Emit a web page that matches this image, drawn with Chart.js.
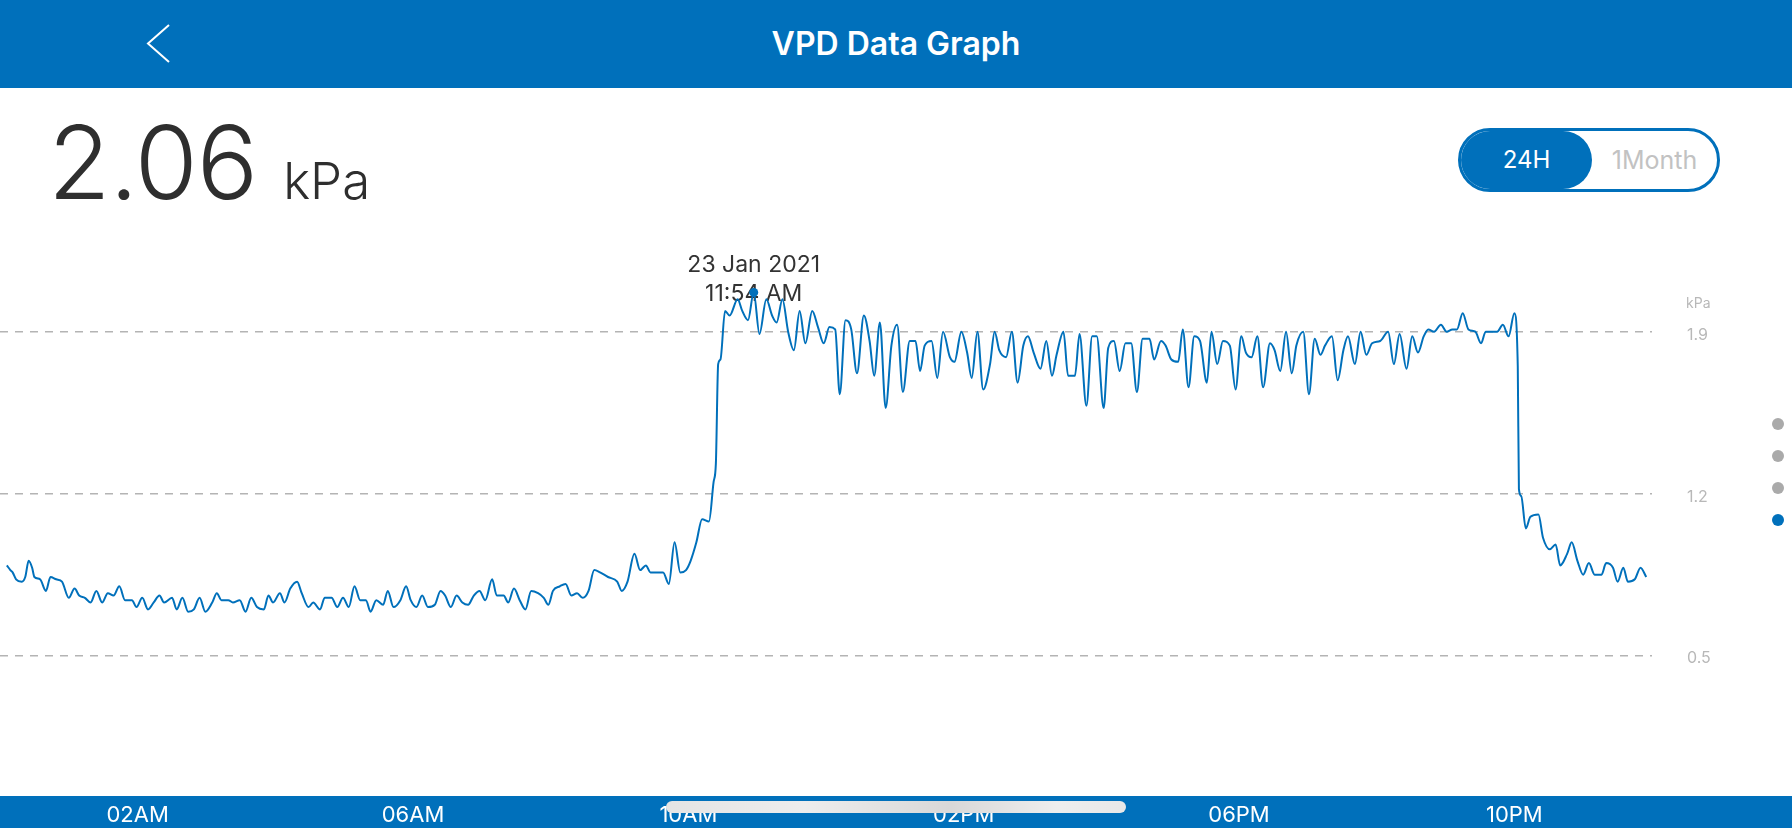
<!DOCTYPE html>
<html>
<head>
<meta charset="utf-8">
<title>VPD Data Graph</title>
<script src="https://cdn.jsdelivr.net/npm/chart.js@4.4.1/dist/chart.umd.min.js"></script>
<style>
  html, body { margin: 0; padding: 0; background: #fff; }
  body { width: 1792px; height: 828px; position: relative; overflow: hidden; font-family: Inter, "Noto Sans", sans-serif; }
  .topbar { position: absolute; left: 0; top: 0; width: 1792px; height: 88px; background: #0070bb; }
  .topbar h1 { margin: 0; position: absolute; left: 0; right: 0; top: 0; line-height: 88px; text-align: center; color: #fff; font-size: 32px; font-weight: 600; }
  .back { position: absolute; left: 140px; top: 20px; }
  .reading { position: absolute; left: 48px; top: 111px; display: flex; align-items: baseline; line-height: 1; color: #2e2e2e; }
  .reading .num { font-size: 102px; font-weight: 300; letter-spacing: -1px; }
  .reading .unit { font-size: 51px; font-weight: 300; margin-left: 26px; }
  .range { position: absolute; left: 1458px; top: 128px; width: 262px; height: 64px; box-sizing: border-box; border: 3px solid #0070bb; border-radius: 32px; font-size: 24px; }
  .range .on { position: absolute; left: 0; top: 0; width: 131px; height: 58px; border-radius: 29px; background: #0070bb; color: #fff; text-align: center; line-height: 58px; }
  .range .off { position: absolute; left: 131px; top: 0; width: 125px; height: 58px; color: #c2c2c2; text-align: center; line-height: 58px; font-size: 25px; }
  #vpdChart { position: absolute; left: 0; top: 200px; }
  .unitlbl { position: absolute; left: 1686px; top: 294px; font-size: 14px; color: #b8b8b8; }
  .dot { position: absolute; left: 1772px; width: 12px; height: 12px; border-radius: 6px; background: #aaaaaa; }
  .scroller { position: absolute; left: 666px; top: 801px; width: 460px; height: 12px; border-radius: 6px;
    background: linear-gradient(90deg, #e4e4e4 0%, #ededed 30%, #d8d8d8 62%, #eeeeee 85%, #e8e8e8 100%); }
</style>
</head>
<body>
<div class="topbar">
  <svg class="back" width="34" height="50"><polyline points="29,5 8,23.5 29,42" fill="none" stroke="#fff" stroke-width="2"/></svg>
  <h1>VPD Data Graph</h1>
</div>
<div class="reading"><span class="num">2.06</span><span class="unit">kPa</span></div>
<div class="range"><div class="on">24H</div><div class="off">1Month</div></div>
<canvas id="vpdChart" width="1792" height="628"></canvas>
<div class="unitlbl">kPa</div>
<div class="dot" style="top:418px"></div>
<div class="dot" style="top:450px"></div>
<div class="dot" style="top:482px"></div>
<div class="dot" style="top:514px; background:#0070bb"></div>
<div class="scroller"></div>
<script>
// minutes after midnight, 23 Jan 2021
const TIMES = [6, 9, 11, 14, 19, 22, 25, 28, 30, 35, 40, 44, 49, 54, 60, 65, 69, 74, 79, 84, 89, 94, 99, 104, 109, 115, 119, 124, 129, 134, 139, 143, 150, 154, 159, 164, 169, 174, 179, 185, 189, 193, 199, 203, 209, 214, 219, 224, 230, 234, 238, 244, 248, 253, 259, 263, 269, 273, 279, 283, 289, 294,
  299, 304, 309, 314, 319, 323, 328, 334, 338, 343, 349, 354, 358, 363, 368, 373, 379, 384, 388, 393, 398, 403, 408, 413, 418, 423, 429, 433, 439, 443, 448, 453, 458, 463, 469, 474, 478, 482, 488, 493, 498, 503, 508, 513, 518, 523, 530, 538, 542, 547, 553, 558, 563, 567, 578, 583,
  588, 593, 598, 602, 607, 612, 618, 622, 624, 626, 628, 632, 636, 643, 647, 652, 657, 662, 668, 673, 677, 682, 687, 692, 697, 702, 708, 713, 718, 723, 728, 732, 737, 742, 747, 753, 758, 762, 767, 772, 777, 782, 787, 793, 798, 802, 806, 812, 817, 822, 828, 832, 838, 843, 847, 852, 857, 863, 867,
  871, 877, 882, 887, 892, 896, 901, 907, 912, 917, 921, 927, 931, 937, 941, 947, 952, 956, 962, 966, 971, 976, 981, 986, 991, 996, 1002, 1006, 1012, 1016, 1021, 1027, 1031, 1036, 1041, 1046, 1052, 1056, 1061, 1066, 1072, 1077, 1082, 1086, 1091, 1096, 1101, 1107, 1111, 1116, 1121, 1126, 1130, 1136, 1141, 1146, 1151, 1155,
  1161, 1166, 1171, 1175, 1181, 1186, 1191, 1196, 1203, 1210, 1215, 1220, 1226, 1231, 1236, 1241, 1245, 1250, 1256, 1261, 1266, 1270, 1275, 1280, 1286, 1291, 1295, 1300, 1305, 1310, 1315, 1320, 1323, 1324, 1326, 1330, 1334, 1341, 1345, 1351, 1356, 1360, 1366, 1370, 1375, 1380, 1385, 1390, 1396, 1400, 1406, 1410, 1415, 1419, 1425, 1430, 1435];
const VPD = [0.89, 0.87, 0.86, 0.83, 0.82, 0.84, 0.91, 0.88, 0.84, 0.83, 0.78, 0.84, 0.83, 0.82, 0.75, 0.79, 0.76, 0.75, 0.73, 0.78, 0.73, 0.77, 0.76, 0.80, 0.74, 0.74, 0.71, 0.75, 0.70, 0.73, 0.76, 0.73, 0.75, 0.70, 0.75, 0.69, 0.70, 0.75, 0.69, 0.73, 0.77, 0.74, 0.74, 0.73, 0.74, 0.69, 0.75, 0.71, 0.70, 0.76, 0.73, 0.77, 0.73, 0.79, 0.82, 0.77, 0.71, 0.73, 0.70, 0.75, 0.75, 0.71,
  0.75, 0.71, 0.80, 0.74, 0.74, 0.69, 0.74, 0.72, 0.78, 0.71, 0.74, 0.80, 0.74, 0.71, 0.76, 0.71, 0.72, 0.78, 0.76, 0.71, 0.76, 0.73, 0.72, 0.76, 0.78, 0.74, 0.83, 0.76, 0.76, 0.73, 0.79, 0.74, 0.70, 0.78, 0.77, 0.75, 0.72, 0.78, 0.80, 0.81, 0.76, 0.77, 0.75, 0.78, 0.87, 0.86, 0.84, 0.82, 0.78, 0.82, 0.94, 0.87, 0.89, 0.86, 0.86, 0.81,
  0.99, 0.86, 0.87, 0.91, 0.99, 1.09, 1.08, 1.25, 1.33, 1.76, 1.78, 1.99, 1.97, 2.04, 1.99, 1.95, 2.07, 1.89, 2.04, 1.97, 1.94, 2.04, 1.90, 1.82, 1.99, 1.85, 1.99, 1.92, 1.85, 1.92, 1.91, 1.63, 1.95, 1.91, 1.72, 1.97, 1.86, 1.71, 1.94, 1.57, 1.84, 1.93, 1.64, 1.86, 1.86, 1.73, 1.84, 1.86, 1.70, 1.90, 1.79, 1.77, 1.90, 1.81, 1.70, 1.90, 1.65, 1.76, 1.90,
  1.82, 1.79, 1.90, 1.68, 1.84, 1.88, 1.81, 1.74, 1.86, 1.71, 1.80, 1.90, 1.71, 1.71, 1.89, 1.58, 1.88, 1.88, 1.57, 1.83, 1.86, 1.73, 1.85, 1.85, 1.64, 1.87, 1.87, 1.78, 1.86, 1.84, 1.78, 1.77, 1.91, 1.66, 1.88, 1.86, 1.68, 1.90, 1.76, 1.86, 1.84, 1.65, 1.88, 1.81, 1.79, 1.88, 1.66, 1.85, 1.82, 1.73, 1.90, 1.72, 1.84, 1.90, 1.63, 1.87, 1.80, 1.84,
  1.88, 1.69, 1.82, 1.88, 1.76, 1.90, 1.80, 1.85, 1.86, 1.90, 1.76, 1.89, 1.74, 1.88, 1.81, 1.88, 1.91, 1.90, 1.93, 1.90, 1.91, 1.91, 1.98, 1.91, 1.90, 1.85, 1.90, 1.90, 1.90, 1.93, 1.88, 1.98, 1.75, 1.22, 1.19, 1.05, 1.10, 1.11, 1.01, 0.96, 0.98, 0.89, 0.94, 0.99, 0.91, 0.85, 0.90, 0.85, 0.85, 0.90, 0.88, 0.82, 0.88, 0.82, 0.83, 0.88, 0.84];
const X_TICKS = [120, 360, 600, 840, 1080, 1320];
const X_LABELS = ['02AM', '06AM', '10AM', '02PM', '06PM', '10PM'];
const Y_TICKS = [0.5, 1.2, 1.9];
const PICKED_TIME = 657;
const PICKED_TEXT = ['23 Jan 2021', '11:54 AM'];

const BLUE = '#0070bb';
const pickedIndex = TIMES.indexOf(PICKED_TIME);

Chart.defaults.font.family = 'Inter, "Noto Sans", sans-serif';

// blue strip behind the time labels
const bottomBar = {
    id: 'bottomBar',
    beforeDraw: function(chart) {
        var ctx = chart.ctx;
        ctx.save();
        ctx.fillStyle = BLUE;
        ctx.fillRect(0, chart.height - 32, chart.width, 32);
        ctx.restore();
    }
};

// date/time caption over the selected reading
const pickedCaption = {
    id: 'pickedCaption',
    beforeDatasetsDraw: function(chart) {
        var pt = chart.getDatasetMeta(0).data[pickedIndex];
        if (!pt) return;
        var ctx = chart.ctx;
        ctx.save();
        ctx.fillStyle = '#333';
        ctx.font = '23px Inter, "Noto Sans", sans-serif';
        ctx.textAlign = 'center';
        ctx.textBaseline = 'middle';
        ctx.fillText(PICKED_TEXT[0], pt.x, pt.y - 27);
        ctx.fillText(PICKED_TEXT[1], pt.x, pt.y + 2);
        ctx.restore();
    }
};

document.addEventListener("DOMContentLoaded", function() {
    var ctx = document.getElementById('vpdChart').getContext('2d');
    var myChart = new Chart(ctx, {
        type: 'line',
        data: {
            datasets: [{
                label: 'VPD',
                data: TIMES.map(function(t, i) { return {x: t, y: VPD[i]}; }),
                borderColor: BLUE,
                borderWidth: 2,
                fill: false,
                cubicInterpolationMode: 'monotone',
                pointRadius: function(c) { return c.dataIndex === pickedIndex ? 4.5 : 0; },
                pointBackgroundColor: BLUE,
                pointBorderWidth: 0,
                pointHoverRadius: 0
            }]
        },
        options: {
            responsive: false,
            animation: false,
            events: [],
            layout: { padding: { top: 62.3, left: 0, right: 0, bottom: 0 } },
            plugins: {
                legend: { display: false },
                tooltip: { enabled: false }
            },
            scales: {
                x: {
                    type: 'linear',
                    min: 0,
                    max: 1440,
                    grid: { display: false },
                    border: { display: false },
                    afterBuildTicks: function(s) { s.ticks = X_TICKS.map(function(v) { return {value: v}; }); },
                    afterFit: function(s) { s.height = 102.9; },
                    ticks: {
                        color: '#fff',
                        padding: 71,
                        maxRotation: 0,
                        autoSkip: false,
                        font: { size: 22, lineHeight: 1 },
                        callback: function(v) { return X_LABELS[X_TICKS.indexOf(v)]; }
                    }
                },
                y: {
                    position: 'right',
                    min: 0.2,
                    max: 2.2,
                    grid: { color: '#b4b4b4', lineWidth: 1.5, drawTicks: false },
                    border: { display: false, dash: [8, 7] },
                    afterBuildTicks: function(s) { s.ticks = Y_TICKS.map(function(v) { return {value: v}; }); },
                    afterFit: function(s) { s.width = 140; },
                    ticks: {
                        color: '#b8b8b8',
                        padding: 35,
                        crossAlign: 'near',
                        labelOffset: 3,
                        font: { size: 16 },
                        callback: function(v) { return v.toFixed(1); }
                    }
                }
            }
        },
        plugins: [bottomBar, pickedCaption]
    });
});
</script>
</body>
</html>
